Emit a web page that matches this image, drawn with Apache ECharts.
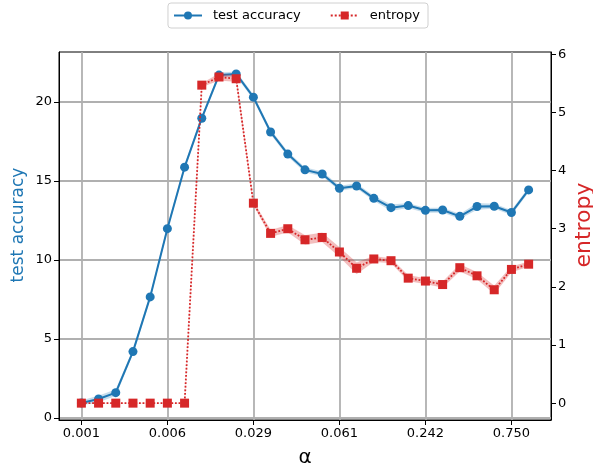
<!DOCTYPE html>
<html>
<head>
<meta charset="utf-8">
<script src="https://cdn.jsdelivr.net/npm/echarts@6/dist/echarts.min.js"></script>
<style>html,body{margin:0;padding:0;background:#fff}#c{width:593px;height:466px}</style>
</head>
<body>
<div id="c"></div>
<script>
const alphaLabels = ['0.001', '0.006', '0.029', '0.061', '0.242', '0.750'];
const labelIndex = [0, 5, 10, 15, 20, 25];
const accuracy = [0.95, 1.2, 1.6, 4.2, 7.66, 11.98, 15.87, 18.97, 21.7, 21.77, 20.3, 18.1, 16.7, 15.7, 15.44, 14.54, 14.68, 13.9, 13.31, 13.44, 13.14, 13.16, 12.76, 13.38, 13.4, 13.0, 14.43];
const accuracyStd = [0.15, 0.2, 0.2, 0.15, 0.15, 0.15, 0.15, 0.15, 0.15, 0.15, 0.15, 0.15, 0.15, 0.15, 0.15, 0.15, 0.15, 0.15, 0.2, 0.15, 0.15, 0.15, 0.15, 0.2, 0.15, 0.15, 0.15];
const entropy = [0, 0, 0, 0, 0, 0, 0, 5.47, 5.61, 5.58, 3.44, 2.92, 3.0, 2.81, 2.85, 2.6, 2.32, 2.48, 2.45, 2.15, 2.10, 2.04, 2.33, 2.19, 1.95, 2.30, 2.39];
const entropyStd = [0, 0, 0, 0, 0, 0, 0, 0.03, 0.06, 0.05, 0.03, 0.06, 0.06, 0.08, 0.08, 0.08, 0.1, 0.05, 0.04, 0.05, 0.05, 0.05, 0.06, 0.06, 0.07, 0.05, 0.04];
const accTicks = [0, 5, 10, 15, 20];
const entTicks = [0, 1, 2, 3, 4, 5, 6];

const BLUE = '#1f77b4', RED = '#d62728';
const FONT = 'DejaVu Sans';
const chart = echarts.init(document.getElementById('c'));

const pairs = (arr) => arr.map((v, i) => [i, v]);

function bandSeries(values, stds, axisIndex, color, opacity, z) {
  return {
    type: 'custom', yAxisIndex: axisIndex, silent: true, z: z,
    data: values.map((v, i) => [i, v - stds[i], v + stds[i]]),
    renderItem: function (params, api) {
      if (params.dataIndex !== 0) return null;
      const upper = values.map((v, i) => api.coord([i, v + stds[i]]));
      const low = values.map((v, i) => api.coord([i, v - stds[i]])).reverse();
      return {
        type: 'polygon',
        shape: { points: upper.concat(low) },
        style: { fill: color, opacity: opacity, stroke: color, lineWidth: 0.6, strokeOpacity: opacity }
      };
    }
  };
}

chart.setOption({
  animation: false,
  textStyle: { fontFamily: FONT },
  legend: {
    top: 3, left: 'center',
    data: ['test accuracy', 'entropy'],
    borderColor: '#d0d0d0', borderWidth: 1, borderRadius: 3,
    padding: [6, 8, 6, 5],
    itemWidth: 28, itemHeight: 10, itemGap: 29,
    textStyle: { fontFamily: FONT, fontSize: 13, color: '#000', padding: [0, 0, 0, 6] }
  },
  grid: { left: 59, right: 42, top: 52, bottom: 46, show: true, borderColor: '#000', borderWidth: 1, backgroundColor: 'transparent', outerBoundsMode: 'none', containLabel: false },
  xAxis: {
    type: 'value', min: -1.3, max: 27.3,
    name: 'α', nameLocation: 'middle', nameGap: 28, nameMoveOverlap: false,
    nameTextStyle: { fontFamily: FONT, fontSize: 20, color: '#000' },
    axisLine: { show: true, onZero: false, lineStyle: { color: '#000', width: 1 } },
    axisTick: { show: true, length: 5, lineStyle: { color: '#000' }, customValues: labelIndex },
    axisLabel: { customValues: labelIndex, fontSize: 13, color: '#000', margin: 7,
      formatter: (v) => alphaLabels[labelIndex.indexOf(Math.round(v))] || '' },
    splitLine: { show: true, lineStyle: { color: '#b0b0b0', width: 1.8 } }
  },
  yAxis: [
    {
      type: 'value', min: -0.13, max: 23.16, position: 'left',
      name: 'test accuracy', nameLocation: 'middle', nameGap: 32, nameMoveOverlap: false,
      nameTextStyle: { fontFamily: FONT, fontSize: 17, color: BLUE, padding: [0, 0, 0, 22] },
      axisLine: { show: true, onZero: false, lineStyle: { color: '#000' } },
      axisTick: { show: true, length: 5, lineStyle: { color: '#000' }, customValues: accTicks },
      axisLabel: { customValues: accTicks, fontSize: 13, color: '#000', margin: 7 },
      splitLine: { show: true, lineStyle: { color: '#b0b0b0', width: 1.8 } }
    },
    {
      type: 'value', min: -0.29, max: 6.04, position: 'right',
      name: 'entropy', nameLocation: 'middle', nameGap: 22, nameRotate: 90, nameMoveOverlap: false,
      nameTextStyle: { fontFamily: FONT, fontSize: 22, color: RED, padding: [0, 0, 0, 22] },
      axisLine: { show: true, onZero: false, lineStyle: { color: '#000' } },
      axisTick: { show: true, length: 5, lineStyle: { color: '#000' }, customValues: entTicks },
      axisLabel: { customValues: entTicks, fontSize: 13, color: '#000', margin: 7 },
      splitLine: { show: false }
    }
  ],
  series: [
    bandSeries(accuracy, accuracyStd, 0, BLUE, 0.25, 2),
    {
      name: 'test accuracy', type: 'line', yAxisIndex: 0, data: pairs(accuracy),
      symbol: 'circle', symbolSize: 9, z: 3,
      itemStyle: { color: BLUE }, lineStyle: { color: BLUE, width: 2 }
    },
    bandSeries(entropy, entropyStd, 1, RED, 0.3, 4),
    {
      name: 'entropy', type: 'line', yAxisIndex: 1, data: pairs(entropy),
      symbol: 'rect', symbolSize: 9, z: 5,
      itemStyle: { color: RED }, lineStyle: { color: RED, width: 1.8, type: 'dotted' }
    }
  ]
});
</script>
</body>
</html>
